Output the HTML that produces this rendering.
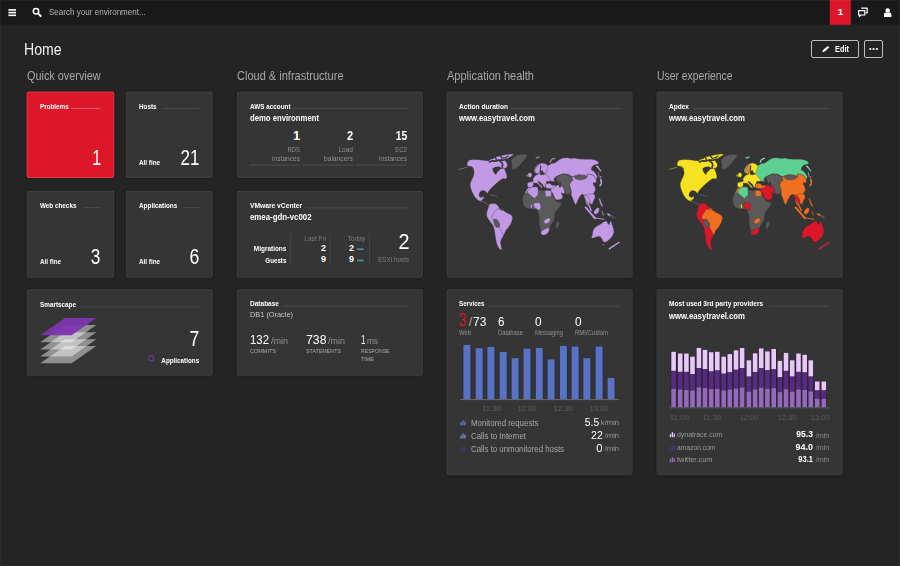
<!DOCTYPE html>
<html lang="en">
<head>
<meta charset="utf-8">
<title>Home</title>
<style>
*{box-sizing:border-box;margin:0;padding:0}
html,body{width:900px;height:566px;overflow:hidden}
body{background:#242424;font-family:"Liberation Sans",sans-serif;color:#fff;position:relative}
.t{position:absolute;white-space:nowrap;line-height:1}
.btn{position:absolute;border:1px solid #bdbdbd;border-radius:2px;top:40px;height:18px}
svg{position:absolute;left:0;top:0}
</style>
</head>
<body>
<div class="btn" style="left:811px;width:48px"></div>
<div class="btn" style="left:864px;width:19px"></div>
<svg width="900" height="566" viewBox="0 0 900 566">
<defs><filter id="sh" x="-5%" y="-5%" width="110%" height="110%"><feGaussianBlur stdDeviation="1.3"/></filter></defs>
<rect x="0" y="0" width="900" height="24.6" fill="#191919"/><rect x="829.8" y="0" width="21" height="24.8" fill="#dc172a"/>
<g filter="url(#sh)" fill="#000" opacity="0.35">
<rect x="26.6" y="91.6" width="87.7" height="86.4" rx="2"/>
<rect x="125.8" y="91.6" width="87" height="86.4" rx="2"/>
<rect x="26.6" y="190.8" width="87.7" height="87" rx="2"/>
<rect x="125.8" y="190.8" width="87" height="87" rx="2"/>
<rect x="26.6" y="289.2" width="186.2" height="86.6" rx="2"/>
<rect x="236.8" y="91.6" width="186" height="86.4" rx="2"/>
<rect x="236.8" y="190.8" width="186" height="87" rx="2"/>
<rect x="236.8" y="289.2" width="186" height="86.6" rx="2"/>
<rect x="446.6" y="91.6" width="186" height="186.2" rx="2"/>
<rect x="446.6" y="289.2" width="186" height="186.1" rx="2"/>
<rect x="656.5" y="91.6" width="186.2" height="186.2" rx="2"/>
<rect x="656.5" y="289.2" width="186.2" height="186.1" rx="2"/>
</g>
<rect x="26.6" y="91.6" width="87.7" height="86.4" rx="2.2" fill="#e3394a"/>
<rect x="27.5" y="92.5" width="85.9" height="84.60000000000001" rx="1.5" fill="#dc172a"/>
<rect x="125.8" y="91.6" width="87" height="86.4" rx="2.2" fill="#404040"/>
<rect x="126.7" y="92.5" width="85.2" height="84.60000000000001" rx="1.5" fill="#353535"/>
<rect x="26.6" y="190.8" width="87.7" height="87" rx="2.2" fill="#404040"/>
<rect x="27.5" y="191.70000000000002" width="85.9" height="85.2" rx="1.5" fill="#353535"/>
<rect x="125.8" y="190.8" width="87" height="87" rx="2.2" fill="#404040"/>
<rect x="126.7" y="191.70000000000002" width="85.2" height="85.2" rx="1.5" fill="#353535"/>
<rect x="26.6" y="289.2" width="186.2" height="86.6" rx="2.2" fill="#404040"/>
<rect x="27.5" y="290.09999999999997" width="184.39999999999998" height="84.8" rx="1.5" fill="#353535"/>
<rect x="236.8" y="91.6" width="186" height="86.4" rx="2.2" fill="#404040"/>
<rect x="237.70000000000002" y="92.5" width="184.2" height="84.60000000000001" rx="1.5" fill="#353535"/>
<rect x="236.8" y="190.8" width="186" height="87" rx="2.2" fill="#404040"/>
<rect x="237.70000000000002" y="191.70000000000002" width="184.2" height="85.2" rx="1.5" fill="#353535"/>
<rect x="236.8" y="289.2" width="186" height="86.6" rx="2.2" fill="#404040"/>
<rect x="237.70000000000002" y="290.09999999999997" width="184.2" height="84.8" rx="1.5" fill="#353535"/>
<rect x="446.6" y="91.6" width="186" height="186.2" rx="2.2" fill="#404040"/>
<rect x="447.5" y="92.5" width="184.2" height="184.39999999999998" rx="1.5" fill="#353535"/>
<rect x="446.6" y="289.2" width="186" height="186.1" rx="2.2" fill="#404040"/>
<rect x="447.5" y="290.09999999999997" width="184.2" height="184.29999999999998" rx="1.5" fill="#353535"/>
<rect x="656.5" y="91.6" width="186.2" height="186.2" rx="2.2" fill="#404040"/>
<rect x="657.4" y="92.5" width="184.39999999999998" height="184.39999999999998" rx="1.5" fill="#353535"/>
<rect x="656.5" y="289.2" width="186.2" height="186.1" rx="2.2" fill="#404040"/>
<rect x="657.4" y="290.09999999999997" width="184.39999999999998" height="184.29999999999998" rx="1.5" fill="#353535"/>
<g fill="#fff">
<rect x="8.4" y="9.1" width="7.6" height="1.6"/>
<rect x="8.4" y="11.8" width="7.6" height="1.6"/>
<rect x="8.4" y="14.5" width="7.6" height="1.6"/>
</g>
<circle cx="36" cy="11.3" r="2.7" fill="none" stroke="#fff" stroke-width="1.5"/><path d="M38 13.3 L40.7 16" stroke="#fff" stroke-width="1.9" stroke-linecap="round"/>
<g fill="none" stroke="#fff" stroke-width="1.2" stroke-linejoin="round"><path d="M861.2 8.2h6v4.6h-1.6"/><path d="M858.6 10.6h6.2v4.4h-3.8l-1.4 1.4v-1.4h-1z" fill="#191919"/></g>
<g fill="#fff"><circle cx="887.7" cy="10.4" r="2.2"/><path d="M884 17v-2.6c0-1 .8-1.8 1.8-1.8h3.8c1 0 1.8.8 1.8 1.8V17z"/></g>
<path d="M822.3 52.3 L823 50 L827.8 45.9 L829.3 47.4 L824.6 51.6 Z" fill="#fff"/>
<circle cx="870.3" cy="49" r="1.1" fill="#fff"/>
<circle cx="873.6" cy="49" r="1.1" fill="#fff"/>
<circle cx="876.9" cy="49" r="1.1" fill="#fff"/>
<rect x="71" y="107.9" width="29.5" height="1" fill="#e65a68"/>
<rect x="162" y="108.1" width="37.5" height="1" fill="#494949"/>
<rect x="83" y="207.1" width="16.8" height="1" fill="#494949"/>
<rect x="183.3" y="207.1" width="16.7" height="1" fill="#494949"/>
<rect x="81" y="306.3" width="118.6" height="1" fill="#494949"/>
<rect x="293" y="107.8" width="116.5" height="1" fill="#494949"/>
<rect x="305" y="207.3" width="104.5" height="1" fill="#494949"/>
<rect x="282" y="305.7" width="127.5" height="1" fill="#494949"/>
<rect x="511" y="108.0" width="109.0" height="1" fill="#494949"/>
<rect x="693.5" y="108.0" width="135.5" height="1" fill="#494949"/>
<rect x="488" y="305.7" width="131.0" height="1" fill="#494949"/>
<rect x="769.5" y="305.7" width="59.5" height="1" fill="#494949"/>
<rect x="249.5" y="164.5" width="50.7" height="1" fill="#505050"/>
<rect x="302.2" y="164.5" width="50.8" height="1" fill="#505050"/>
<rect x="355.5" y="164.5" width="51.5" height="1" fill="#505050"/>
<line x1="290.4" y1="234" x2="290.4" y2="264.5" stroke="#5a5a5a" stroke-width="0.8" stroke-dasharray="1 1"/>
<line x1="330" y1="234" x2="330" y2="264.5" stroke="#5a5a5a" stroke-width="0.8" stroke-dasharray="1 1"/>
<line x1="369.5" y1="234" x2="369.5" y2="264.5" stroke="#5a5a5a" stroke-width="0.8" stroke-dasharray="1 1"/>
<rect x="357" y="248.3" width="6.6" height="1.8" fill="#4c8d9c"/>
<rect x="357" y="259.5" width="6.6" height="1.8" fill="#4c8d9c"/>
<polygon points="65.1,346.0 96.3,346.0 71.6,363.2 40.2,363.2" fill="rgba(255,255,255,0.45)"/>
<polygon points="65.1,339.3 96.3,339.3 71.6,356.5 40.2,356.5" fill="rgba(255,255,255,0.45)"/>
<polygon points="65.1,332.2 96.3,332.2 71.6,349.4 40.2,349.4" fill="rgba(255,255,255,0.45)"/>
<polygon points="65.1,325.1 96.3,325.1 71.6,342.3 40.2,342.3" fill="rgba(255,255,255,0.45)"/>
<polygon points="65.1,318.1 96.3,318.1 71.6,335.3 40.2,335.3" fill="rgba(126,54,176,0.95)"/>
<circle cx="151.1" cy="358.3" r="2.7" fill="none" stroke="#7440a6" stroke-width="1"/>
<rect x="462.4" y="345.0" width="9" height="54.2" fill="#2e2e3a"/>
<rect x="463.4" y="345.0" width="7" height="54.2" fill="#5873c6"/>
<rect x="474.7" y="348.2" width="9" height="51.0" fill="#2e2e3a"/>
<rect x="475.7" y="348.2" width="7" height="51.0" fill="#5873c6"/>
<rect x="486.4" y="346.9" width="9" height="52.3" fill="#2e2e3a"/>
<rect x="487.4" y="346.9" width="7" height="52.3" fill="#5873c6"/>
<rect x="498.7" y="352.0" width="9" height="47.2" fill="#2e2e3a"/>
<rect x="499.7" y="352.0" width="7" height="47.2" fill="#5873c6"/>
<rect x="510.6" y="358.2" width="9" height="41.0" fill="#2e2e3a"/>
<rect x="511.6" y="358.2" width="7" height="41.0" fill="#5873c6"/>
<rect x="522.5" y="348.6" width="9" height="50.6" fill="#2e2e3a"/>
<rect x="523.5" y="348.6" width="7" height="50.6" fill="#5873c6"/>
<rect x="534.8" y="348.0" width="9" height="51.2" fill="#2e2e3a"/>
<rect x="535.8" y="348.0" width="7" height="51.2" fill="#5873c6"/>
<rect x="546.6" y="359.4" width="9" height="39.8" fill="#2e2e3a"/>
<rect x="547.6" y="359.4" width="7" height="39.8" fill="#5873c6"/>
<rect x="558.9" y="345.9" width="9" height="53.3" fill="#2e2e3a"/>
<rect x="559.9" y="345.9" width="7" height="53.3" fill="#5873c6"/>
<rect x="570.6" y="346.5" width="9" height="52.7" fill="#2e2e3a"/>
<rect x="571.6" y="346.5" width="7" height="52.7" fill="#5873c6"/>
<rect x="582.3" y="358.2" width="9" height="41.0" fill="#2e2e3a"/>
<rect x="583.3" y="358.2" width="7" height="41.0" fill="#5873c6"/>
<rect x="594.6" y="346.5" width="9" height="52.7" fill="#2e2e3a"/>
<rect x="595.6" y="346.5" width="7" height="52.7" fill="#5873c6"/>
<rect x="606.6" y="377.9" width="9" height="21.3" fill="#2e2e3a"/>
<rect x="607.6" y="377.9" width="7" height="21.3" fill="#5873c6"/>
<rect x="460.3" y="399.1" width="158.7" height="1" fill="#6b6b6b"/>
<g fill="#5c79d0"><rect x="460.4" y="422.3" width="1.3" height="3"/><rect x="462.29999999999995" y="420.3" width="1.3" height="5"/><rect x="464.2" y="421.5" width="1.3" height="3.8"/></g>
<g fill="#7a8fc8"><rect x="460.4" y="435.4" width="1.3" height="3"/><rect x="462.29999999999995" y="433.4" width="1.3" height="5"/><rect x="464.2" y="434.59999999999997" width="1.3" height="3.8"/></g>
<g fill="#3c3f78"><rect x="460.4" y="448.4" width="1.3" height="3"/><rect x="462.29999999999995" y="446.4" width="1.3" height="5"/><rect x="464.2" y="447.59999999999997" width="1.3" height="3.8"/></g>
<rect x="670.5" y="351.8" width="6.2" height="55.6" fill="#2c2233"/>
<rect x="671.3" y="351.8" width="4.6" height="19.1" fill="#e8c8f6"/>
<rect x="671.3" y="370.9" width="4.6" height="18.0" fill="#582b83"/>
<rect x="671.3" y="388.9" width="4.6" height="18.5" fill="#9469ba"/>
<rect x="677.1" y="353.5" width="6.2" height="53.9" fill="#2c2233"/>
<rect x="677.9" y="353.5" width="4.6" height="18.4" fill="#e8c8f6"/>
<rect x="677.9" y="371.9" width="4.6" height="17.6" fill="#582b83"/>
<rect x="677.9" y="389.5" width="4.6" height="17.9" fill="#9469ba"/>
<rect x="683.3" y="353.5" width="6.2" height="53.9" fill="#2c2233"/>
<rect x="684.1" y="353.5" width="4.6" height="18.4" fill="#e8c8f6"/>
<rect x="684.1" y="371.9" width="4.6" height="18.0" fill="#582b83"/>
<rect x="684.1" y="390.0" width="4.6" height="17.4" fill="#9469ba"/>
<rect x="689.4" y="356.7" width="6.2" height="50.7" fill="#2c2233"/>
<rect x="690.2" y="356.7" width="4.6" height="17.4" fill="#e8c8f6"/>
<rect x="690.2" y="374.1" width="4.6" height="16.5" fill="#582b83"/>
<rect x="690.2" y="390.6" width="4.6" height="16.8" fill="#9469ba"/>
<rect x="695.8" y="348.0" width="6.2" height="59.4" fill="#2c2233"/>
<rect x="696.6" y="348.0" width="4.6" height="20.1" fill="#e8c8f6"/>
<rect x="696.6" y="368.1" width="4.6" height="19.3" fill="#582b83"/>
<rect x="696.6" y="387.4" width="4.6" height="20.0" fill="#9469ba"/>
<rect x="701.9" y="349.9" width="6.2" height="57.5" fill="#2c2233"/>
<rect x="702.7" y="349.9" width="4.6" height="19.3" fill="#e8c8f6"/>
<rect x="702.7" y="369.2" width="4.6" height="18.9" fill="#582b83"/>
<rect x="702.7" y="388.1" width="4.6" height="19.3" fill="#9469ba"/>
<rect x="708.1" y="352.2" width="6.2" height="55.2" fill="#2c2233"/>
<rect x="708.9" y="352.2" width="4.6" height="19.3" fill="#e8c8f6"/>
<rect x="708.9" y="371.5" width="4.6" height="17.6" fill="#582b83"/>
<rect x="708.9" y="389.1" width="4.6" height="18.3" fill="#9469ba"/>
<rect x="714.2" y="351.8" width="6.2" height="55.6" fill="#2c2233"/>
<rect x="715.0" y="351.8" width="4.6" height="18.7" fill="#e8c8f6"/>
<rect x="715.0" y="370.5" width="4.6" height="18.4" fill="#582b83"/>
<rect x="715.0" y="388.9" width="4.6" height="18.5" fill="#9469ba"/>
<rect x="720.6" y="356.7" width="6.2" height="50.7" fill="#2c2233"/>
<rect x="721.4" y="356.7" width="4.6" height="17.0" fill="#e8c8f6"/>
<rect x="721.4" y="373.6" width="4.6" height="16.8" fill="#582b83"/>
<rect x="721.4" y="390.4" width="4.6" height="17.0" fill="#9469ba"/>
<rect x="726.7" y="354.1" width="6.2" height="53.3" fill="#2c2233"/>
<rect x="727.5" y="354.1" width="4.6" height="18.2" fill="#e8c8f6"/>
<rect x="727.5" y="372.4" width="4.6" height="17.2" fill="#582b83"/>
<rect x="727.5" y="389.5" width="4.6" height="17.9" fill="#9469ba"/>
<rect x="732.9" y="350.3" width="6.2" height="57.1" fill="#2c2233"/>
<rect x="733.7" y="350.3" width="4.6" height="19.5" fill="#e8c8f6"/>
<rect x="733.7" y="369.8" width="4.6" height="18.7" fill="#582b83"/>
<rect x="733.7" y="388.5" width="4.6" height="18.9" fill="#9469ba"/>
<rect x="739.0" y="348.0" width="6.2" height="59.4" fill="#2c2233"/>
<rect x="739.8" y="348.0" width="4.6" height="20.1" fill="#e8c8f6"/>
<rect x="739.8" y="368.1" width="4.6" height="19.3" fill="#582b83"/>
<rect x="739.8" y="387.4" width="4.6" height="20.0" fill="#9469ba"/>
<rect x="745.8" y="360.3" width="6.2" height="47.1" fill="#2c2233"/>
<rect x="746.6" y="360.3" width="4.6" height="16.3" fill="#e8c8f6"/>
<rect x="746.6" y="376.6" width="4.6" height="15.1" fill="#582b83"/>
<rect x="746.6" y="391.7" width="4.6" height="15.7" fill="#9469ba"/>
<rect x="752.0" y="353.3" width="6.2" height="54.1" fill="#2c2233"/>
<rect x="752.8" y="353.3" width="4.6" height="18.7" fill="#e8c8f6"/>
<rect x="752.8" y="371.9" width="4.6" height="17.6" fill="#582b83"/>
<rect x="752.8" y="389.5" width="4.6" height="17.9" fill="#9469ba"/>
<rect x="758.1" y="348.4" width="6.2" height="59.0" fill="#2c2233"/>
<rect x="758.9" y="348.4" width="4.6" height="19.9" fill="#e8c8f6"/>
<rect x="758.9" y="368.3" width="4.6" height="19.3" fill="#582b83"/>
<rect x="758.9" y="387.6" width="4.6" height="19.8" fill="#9469ba"/>
<rect x="764.3" y="351.4" width="6.2" height="56.0" fill="#2c2233"/>
<rect x="765.1" y="351.4" width="4.6" height="18.9" fill="#e8c8f6"/>
<rect x="765.1" y="370.2" width="4.6" height="18.4" fill="#582b83"/>
<rect x="765.1" y="388.7" width="4.6" height="18.7" fill="#9469ba"/>
<rect x="770.6" y="349.0" width="6.2" height="58.4" fill="#2c2233"/>
<rect x="771.4" y="349.0" width="4.6" height="20.4" fill="#e8c8f6"/>
<rect x="771.4" y="369.4" width="4.6" height="18.7" fill="#582b83"/>
<rect x="771.4" y="388.1" width="4.6" height="19.3" fill="#9469ba"/>
<rect x="776.8" y="360.9" width="6.2" height="46.5" fill="#2c2233"/>
<rect x="777.6" y="360.9" width="4.6" height="16.3" fill="#e8c8f6"/>
<rect x="777.6" y="377.2" width="4.6" height="14.8" fill="#582b83"/>
<rect x="777.6" y="392.1" width="4.6" height="15.3" fill="#9469ba"/>
<rect x="782.9" y="352.9" width="6.2" height="54.5" fill="#2c2233"/>
<rect x="783.7" y="352.9" width="4.6" height="18.0" fill="#e8c8f6"/>
<rect x="783.7" y="370.9" width="4.6" height="18.4" fill="#582b83"/>
<rect x="783.7" y="389.3" width="4.6" height="18.1" fill="#9469ba"/>
<rect x="789.1" y="360.3" width="6.2" height="47.1" fill="#2c2233"/>
<rect x="789.9" y="360.3" width="4.6" height="16.3" fill="#e8c8f6"/>
<rect x="789.9" y="376.6" width="4.6" height="15.1" fill="#582b83"/>
<rect x="789.9" y="391.7" width="4.6" height="15.7" fill="#9469ba"/>
<rect x="795.4" y="353.5" width="6.2" height="53.9" fill="#2c2233"/>
<rect x="796.2" y="353.5" width="4.6" height="18.4" fill="#e8c8f6"/>
<rect x="796.2" y="371.9" width="4.6" height="17.6" fill="#582b83"/>
<rect x="796.2" y="389.5" width="4.6" height="17.9" fill="#9469ba"/>
<rect x="801.6" y="354.8" width="6.2" height="52.6" fill="#2c2233"/>
<rect x="802.4" y="354.8" width="4.6" height="17.6" fill="#e8c8f6"/>
<rect x="802.4" y="372.4" width="4.6" height="17.6" fill="#582b83"/>
<rect x="802.4" y="390.0" width="4.6" height="17.4" fill="#9469ba"/>
<rect x="807.7" y="360.3" width="6.2" height="47.1" fill="#2c2233"/>
<rect x="808.5" y="360.3" width="4.6" height="16.3" fill="#e8c8f6"/>
<rect x="808.5" y="376.6" width="4.6" height="14.8" fill="#582b83"/>
<rect x="808.5" y="391.4" width="4.6" height="16.0" fill="#9469ba"/>
<rect x="814.1" y="381.5" width="6.2" height="25.9" fill="#2c2233"/>
<rect x="814.9" y="381.5" width="4.6" height="8.9" fill="#e8c8f6"/>
<rect x="814.9" y="390.4" width="4.6" height="8.5" fill="#582b83"/>
<rect x="814.9" y="398.9" width="4.6" height="8.5" fill="#9469ba"/>
<rect x="820.7" y="381.5" width="6.2" height="25.9" fill="#2c2233"/>
<rect x="821.5" y="381.5" width="4.6" height="8.9" fill="#e8c8f6"/>
<rect x="821.5" y="390.4" width="4.6" height="8.5" fill="#582b83"/>
<rect x="821.5" y="398.9" width="4.6" height="8.5" fill="#9469ba"/>
<rect x="669" y="407.3" width="160.5" height="1" fill="#5a5a5a"/>
<g fill="#e6c6f7"><rect x="669.8" y="434.2" width="1.3" height="3"/><rect x="671.6999999999999" y="432.2" width="1.3" height="5"/><rect x="673.5999999999999" y="433.4" width="1.3" height="3.8"/></g>
<g fill="#5a2b85"><rect x="669.8" y="446.9" width="1.3" height="3"/><rect x="671.6999999999999" y="444.9" width="1.3" height="5"/><rect x="673.5999999999999" y="446.09999999999997" width="1.3" height="3.8"/></g>
<g fill="#9a6cbf"><rect x="669.8" y="459.1" width="1.3" height="3"/><rect x="671.6999999999999" y="457.1" width="1.3" height="5"/><rect x="673.5999999999999" y="458.3" width="1.3" height="3.8"/></g>
<rect x="0.5" y="0.5" width="899" height="565" fill="none" stroke="rgba(255,255,255,0.04)" stroke-width="1"/>
</svg>
<svg width="900" height="566" viewBox="0 0 900 566">
<g transform="translate(0,0)" stroke-linejoin="round">
<polygon points="467.0,165.0 467.5,162.0 469.5,160.0 474.0,159.5 479.0,159.7 485.0,160.5 489.0,161.0 490.0,159.5 494.0,158.5 495.0,157.0 500.0,156.0 505.0,154.8 511.0,154.0 514.0,154.2 512.5,155.5 509.0,157.5 506.5,159.5 505.0,161.0 507.0,163.0 507.5,166.0 505.5,168.5 504.0,168.2 505.0,170.0 506.5,174.0 507.0,177.5 505.5,179.0 503.0,178.5 500.5,180.0 498.0,182.0 495.0,184.5 492.5,187.0 490.0,189.5 488.5,191.5 487.5,193.5 486.5,192.5 485.0,191.0 482.0,190.5 480.0,192.0 479.0,194.5 479.5,196.8 481.8,197.6 483.3,196.2 484.2,197.0 483.2,199.3 481.6,200.0 482.2,201.8 481.2,201.4 478.5,200.4 476.4,198.9 474.6,196.7 472.9,193.7 471.4,190.2 470.3,186.5 470.2,183.5 471.5,180.0 473.0,177.0 474.0,174.0 474.0,171.0 473.0,169.0 471.0,167.5 468.5,166.5" fill="#c299e4" stroke="#2f2f2f" stroke-width="0.3"/>
<polygon points="492.5,168.5 495.0,167.0 499.0,166.5 500.8,167.8 503.5,167.8 503.8,168.6 500.5,169.0 499.0,170.5 497.0,172.5 496.0,175.0 494.5,173.5 493.0,171.0" fill="#353535"/>
<polyline points="489.5,162.0 492.5,160.8 495.5,161.2 499.0,160.0 503.0,160.2 506.5,159.2" fill="none" stroke="#353535" stroke-width="1.7" stroke-linecap="round"/>
<polyline points="502.0,167.2 502.8,165.0 502.0,162.8 499.8,161.2" fill="none" stroke="#353535" stroke-width="1.6" stroke-linecap="round"/>
<polyline points="500.5,156.2 502.0,158.2 505.0,157.8 508.0,156.2" fill="none" stroke="#353535" stroke-width="1.3" stroke-linecap="round"/>
<polyline points="495.5,157.5 496.5,160.0" fill="none" stroke="#353535" stroke-width="1.3" stroke-linecap="round"/>
<polyline points="467.8,166.5 471.0,166.8 473.3,168.6" fill="none" stroke="#353535" stroke-width="1.1" stroke-linecap="round"/>
<polyline points="459.0,169.5 467.0,167.2" fill="none" stroke="#7d6c8c" stroke-width="0.9" stroke-linecap="round"/>
<polyline points="481.0,200.5 484.5,202.4 487.5,204.2 489.2,205.3" fill="none" stroke="#6f6480" stroke-width="0.9" stroke-linecap="round"/>
<polyline points="490.0,194.8 494.5,195.5 497.0,197.0" fill="none" stroke="#5d5d5d" stroke-width="0.9" stroke-linecap="round"/>
<polygon points="511.5,159.5 515.0,156.0 520.0,154.5 525.0,154.2 527.5,155.2 525.5,158.5 523.0,161.5 520.0,165.0 516.0,168.5 513.0,170.0 511.5,168.0 512.0,164.0 511.0,161.5" fill="#5a5a5a" stroke="#2f2f2f" stroke-width="0.3"/>
<polygon points="523.0,166.5 525.0,166.2 525.5,167.5 523.5,167.8" fill="#4c4c4c" stroke="#2f2f2f" stroke-width="0.3"/>
<polygon points="535.0,157.2 539.5,156.2 540.0,157.8 536.5,159.0" fill="#8d7da0" stroke="#2f2f2f" stroke-width="0.3"/>
<polygon points="489.0,205.0 491.0,203.5 495.0,203.5 497.5,205.0 499.0,207.5 503.5,210.5 506.0,212.5 509.5,214.0 512.0,216.0 512.5,218.5 511.5,222.0 510.0,225.0 508.0,228.0 506.0,230.0 504.5,233.5 503.0,236.5 501.5,239.0 500.5,242.0 501.0,245.0 501.5,248.0 502.5,250.0 500.0,249.5 498.0,247.0 496.5,243.0 495.5,238.0 494.8,233.0 494.2,229.0 493.0,225.5 490.8,222.5 488.5,219.5 486.8,216.5 486.5,213.5 487.5,210.0 488.5,207.0" fill="#c299e4" stroke="#2f2f2f" stroke-width="0.3"/>
<polygon points="491.8,216.5 493.5,213.0 496.2,209.5 499.0,209.0 503.5,210.5 506.0,212.5 509.5,214.0 512.0,216.0 512.5,218.5 511.5,222.0 510.0,225.0 508.0,228.0 506.0,230.0 504.5,233.5 503.5,235.0 502.2,232.5 500.8,229.5 499.2,227.0 499.5,224.0 498.0,221.8 496.2,219.5 494.0,219.8 492.2,218.5" fill="#c299e4" stroke="#2f2f2f" stroke-width="0.3"/>
<polygon points="493.6,219.4 496.4,219.1 498.4,221.6 499.9,224.0 499.3,227.1 496.2,227.4 494.8,225.2 493.8,222.5" fill="#5a5a5a" stroke="#2f2f2f" stroke-width="0.3"/>
<polygon points="499.0,207.5 501.5,208.5 503.0,210.5 501.0,210.0 499.5,209.0" fill="#5a5a5a" stroke="#2f2f2f" stroke-width="0.3"/>
<polygon points="527.5,188.5 530.0,187.0 535.0,186.5 538.0,187.5 538.5,190.0 543.0,190.5 547.0,190.0 550.0,190.5 551.5,191.5 552.5,195.0 554.5,199.0 556.5,201.5 562.0,202.5 560.5,205.5 558.0,209.0 555.5,212.0 554.5,215.0 554.5,218.5 553.5,221.5 551.5,224.0 550.0,227.0 548.5,231.0 546.0,234.5 542.5,235.5 541.0,233.5 540.5,230.0 539.5,226.0 539.0,222.0 539.5,218.5 538.5,215.0 537.5,212.0 538.0,210.0 535.0,209.0 531.0,209.0 527.0,208.5 524.5,206.5 523.0,203.0 522.5,199.5 523.5,195.5 525.0,192.5" fill="#5a5a5a" stroke="#2f2f2f" stroke-width="0.3"/>
<polygon points="527.5,189.0 530.0,187.0 537.5,187.0 538.2,191.0 538.0,195.0 534.5,198.5 527.5,192.8" fill="#c299e4" stroke="#2f2f2f" stroke-width="0.3"/>
<polygon points="525.0,192.5 527.5,188.5 530.0,187.0 531.0,187.8 528.5,190.0 526.2,193.5" fill="#c299e4" stroke="#2f2f2f" stroke-width="0.3"/>
<polygon points="545.0,190.5 550.0,190.5 551.5,192.0 551.0,196.5 545.5,196.5" fill="#c299e4" stroke="#2f2f2f" stroke-width="0.3"/>
<polygon points="534.0,203.0 539.5,202.5 540.8,205.5 540.5,209.5 538.5,210.0 535.0,208.0 533.5,205.5" fill="#c299e4" stroke="#2f2f2f" stroke-width="0.3"/>
<polygon points="530.5,204.5 532.2,204.3 532.2,208.2 530.6,208.3" fill="#c299e4" stroke="#2f2f2f" stroke-width="0.3"/>
<polygon points="524.6,205.0 525.6,205.0 525.6,206.2 524.6,206.2" fill="#a88bc4" stroke="#2f2f2f" stroke-width="0.3"/>
<polygon points="544.0,220.5 547.0,218.5 549.5,217.8 550.5,220.0 549.0,222.5 546.0,224.0 544.2,223.0" fill="#c299e4" stroke="#2f2f2f" stroke-width="0.3"/>
<polygon points="541.5,231.0 545.0,229.0 548.5,227.5 549.5,229.5 548.0,233.0 545.0,235.0 542.0,235.0 540.8,233.0" fill="#c299e4" stroke="#2f2f2f" stroke-width="0.3"/>
<polygon points="556.5,222.0 559.0,221.0 559.5,224.0 558.0,228.0 556.2,229.0 555.8,225.5" fill="#5a5a5a" stroke="#2f2f2f" stroke-width="0.3"/>
<polygon points="545.0,164.0 547.0,165.5 549.0,165.0 551.5,163.5 555.0,163.0 557.0,161.5 559.5,159.5 563.0,158.0 567.0,157.8 571.0,158.5 575.0,158.0 579.0,159.0 585.0,159.2 591.0,159.2 595.0,160.0 598.0,161.5 599.0,163.5 596.5,164.5 594.0,165.0 592.0,167.0 591.0,169.5 594.0,171.5 596.0,174.0 597.5,177.0 596.2,179.2 594.8,177.5 593.5,175.5 591.0,174.5 587.5,174.0 587.2,176.5 584.0,175.2 579.0,174.8 574.0,176.2 572.2,176.8 568.0,174.3 563.0,173.8 559.0,175.3 555.0,177.3 553.8,179.5 555.0,181.5 551.0,181.2 548.5,179.5 546.0,177.0 544.5,174.5 545.0,171.5 543.8,169.5 544.2,166.5" fill="#c299e4" stroke="#2f2f2f" stroke-width="0.3"/>
<polygon points="534.1,171.7 534.4,169.3 535.9,166.8 537.8,164.6 539.9,163.4 542.7,163.0 545.5,163.8 547.3,165.3 548.0,167.4 546.7,169.9 546.4,172.4 544.2,173.3 543.1,172.2 542.6,170.6 541.7,170.3 540.9,171.9 539.6,173.3 537.8,173.9 535.9,173.3" fill="#c299e4" stroke="#2f2f2f" stroke-width="0.3"/>
<polygon points="534.7,171.6 535.1,169.3 536.5,166.9 538.2,164.9 540.0,164.1 540.5,166.2 540.0,168.7 539.6,171.1 538.7,173.1 536.8,173.2" fill="#c299e4" stroke="#2f2f2f" stroke-width="0.3"/>
<polygon points="534.2,171.6 534.5,169.3 536.0,166.8 537.8,164.7 538.7,164.3 536.8,167.1 535.5,169.4 535.1,171.7" fill="#c299e4" stroke="#2f2f2f" stroke-width="0.3"/>
<polyline points="540.9,166.2 540.5,169.3 540.2,172.2" fill="none" stroke="#353535" stroke-width="1.0" stroke-linecap="round"/>
<polygon points="532.8,178.9 534.4,176.7 535.9,175.1 538.2,174.4 539.0,172.7 540.0,173.3 540.5,174.7 543.0,174.8 545.0,173.9 546.7,174.8 549.2,178.5 551.0,180.4 549.2,181.6 546.7,181.3 546.4,183.5 545.2,184.7 545.5,187.2 544.2,187.5 543.0,185.3 541.8,183.8 539.9,182.2 538.7,181.3 537.8,181.6 539.9,184.4 542.1,186.6 542.7,187.5 541.5,187.8 539.6,186.0 537.8,183.8 536.2,182.9 534.7,183.2 533.1,182.9 533.4,184.4 532.8,186.6 530.7,187.5 527.9,187.2 527.3,185.0 527.6,182.9 530.0,181.9 532.8,181.6 533.4,180.7" fill="#c299e4" stroke="#2f2f2f" stroke-width="0.3"/>
<polygon points="528.2,173.3 530.0,172.4 531.6,173.3 531.9,175.5 531.0,177.3 528.2,177.0 527.9,175.1" fill="#c299e4" stroke="#2f2f2f" stroke-width="0.3"/>
<polygon points="526.3,174.8 527.7,174.5 527.9,176.4 526.4,176.6" fill="#c299e4" stroke="#2f2f2f" stroke-width="0.3"/>
<polygon points="545.2,184.0 549.5,183.2 552.2,185.2 556.0,185.6 556.8,187.8 553.0,189.0 549.0,188.5 546.8,188.4 545.3,186.2" fill="#c299e4" stroke="#2f2f2f" stroke-width="0.3"/>
<polygon points="550.2,190.0 551.8,188.5 555.0,187.0 557.5,185.0 561.0,184.8 563.0,187.0 564.5,190.0 565.0,193.0 563.0,193.5 561.5,192.5 562.0,195.0 563.0,197.0 561.5,199.0 558.0,200.0 555.5,199.5 554.0,196.5 552.5,193.0" fill="#c299e4" stroke="#2f2f2f" stroke-width="0.3"/>
<polygon points="555.0,177.5 559.0,175.5 563.0,174.0 568.0,174.5 572.0,177.0 573.0,180.0 571.0,182.0 569.5,184.5 570.5,188.0 571.5,192.0 569.5,194.0 567.0,194.5 565.0,193.0 564.5,190.0 563.0,187.0 561.0,184.8 560.0,187.5 559.0,184.5 558.0,183.0 556.5,180.0" fill="#5a5a5a" stroke="#2f2f2f" stroke-width="0.3"/>
<polygon points="559.0,182.0 560.5,181.5 561.0,184.5 560.5,187.5 559.5,187.5 559.0,184.5" fill="#353535"/>
<polygon points="572.0,177.0 574.0,176.2 579.0,174.8 584.0,175.2 587.2,176.5 587.5,174.0 591.0,174.5 593.5,175.5 594.8,177.5 596.2,179.2 596.5,182.0 595.0,183.0 594.0,182.0 593.0,184.0 595.0,187.0 595.5,190.0 594.0,193.0 591.5,195.0 589.0,195.5 589.5,198.0 591.0,200.5 590.0,202.5 588.5,201.0 587.5,198.0 586.5,197.0 586.5,200.0 587.5,204.0 588.5,206.0 587.0,205.0 585.5,202.0 585.0,198.0 584.0,195.5 582.5,194.0 581.0,195.0 579.5,197.0 578.0,200.0 576.5,203.5 575.5,205.0 574.0,202.0 572.5,198.0 571.0,194.5 571.5,192.0 570.5,188.0 569.5,184.5 571.0,182.0 573.0,180.0" fill="#c299e4" stroke="#2f2f2f" stroke-width="0.3"/>
<polygon points="574.0,176.5 579.0,175.0 584.0,175.5 587.5,176.8 585.0,179.0 581.0,180.0 577.0,179.5 575.0,178.5" fill="#5a5a5a" stroke="#2f2f2f" stroke-width="0.3"/>
<polygon points="584.5,195.0 590.0,194.0 594.5,194.0 595.2,197.5 593.2,201.5 592.2,204.5 590.0,203.6 589.0,201.5 587.0,199.0 585.0,197.0" fill="#c299e4" stroke="#2f2f2f" stroke-width="0.3"/>
<polyline points="587.2,201.5 589.0,205.5 591.2,210.5" fill="none" stroke="#c299e4" stroke-width="1.4" stroke-linecap="round"/>
<polygon points="583.8,195.2 587.2,195.8 589.0,198.0 590.2,201.5 589.5,203.5 587.5,202.5 585.8,200.0 584.5,197.5" fill="#c299e4" stroke="#2f2f2f" stroke-width="0.3"/>
<polygon points="599.5,179.0 601.0,178.5 602.2,181.0 601.8,184.5 600.2,186.8 599.0,185.8 600.6,183.0 600.2,180.5" fill="#d0b6ea" stroke="#2f2f2f" stroke-width="0.3"/>
<polygon points="599.8,176.2 601.6,176.2 601.6,177.8 600.0,178.0" fill="#c299e4" stroke="#2f2f2f" stroke-width="0.3"/>
<polygon points="596.0,165.0 598.0,166.0 601.5,171.0 600.5,171.8 598.5,169.0 596.0,166.5" fill="#d3bdea" stroke="#2f2f2f" stroke-width="0.3"/>
<polyline points="550.2,162.2 551.2,160.0 553.0,158.8 554.5,158.4" fill="none" stroke="#a893c0" stroke-width="1.2" stroke-linecap="round"/>
<polyline points="598.2,172.5 599.2,177.0" fill="none" stroke="#8b78a0" stroke-width="0.9" stroke-linecap="round"/>
<polyline points="585.6,207.4 590.0,212.5 595.2,218.3" fill="none" stroke="#c299e4" stroke-width="1.9" stroke-linecap="round"/>
<polygon points="594.0,211.0 597.5,207.5 599.5,208.5 598.5,212.5 596.0,214.5 594.0,213.5" fill="#c299e4" stroke="#2f2f2f" stroke-width="0.3"/>
<polyline points="593.0,217.6 604.0,219.3" fill="none" stroke="#b294d2" stroke-width="1.0" stroke-linecap="round"/>
<polyline points="602.0,211.5 603.5,215.2" fill="none" stroke="#9f86bb" stroke-width="1.0" stroke-linecap="round"/>
<polygon points="598.5,198.0 600.0,198.5 601.5,202.5 603.0,206.0 602.0,207.0 600.0,203.5" fill="#b99bdb" stroke="#2f2f2f" stroke-width="0.3"/>
<polygon points="606.7,213.0 610.0,213.7 611.4,216.6 609.6,216.2 607.4,215.1" fill="#c299e4" stroke="#2f2f2f" stroke-width="0.3"/>
<polygon points="610.0,213.7 613.0,215.5 616.0,218.6 612.5,218.3 611.4,216.6" fill="#5a5a5a" stroke="#2f2f2f" stroke-width="0.3"/>
<polygon points="591.3,237.5 592.4,234.9 592.7,231.3 594.2,228.3 597.1,226.1 600.8,223.9 603.7,221.7 606.7,221.0 607.8,223.6 609.2,224.7 610.0,221.7 611.1,221.0 612.2,224.7 613.6,229.1 614.0,232.7 612.5,236.0 610.0,239.0 607.4,241.2 605.2,242.3 603.0,241.5 601.9,239.0 600.4,236.8 597.9,236.4 594.9,237.5 592.7,238.2" fill="#c299e4" stroke="#2f2f2f" stroke-width="0.3"/>
<polygon points="602.1,244.2 603.9,243.9 604.2,245.1 602.6,245.3" fill="#b99bdb" stroke="#2f2f2f" stroke-width="0.3"/>
<polyline points="609.2,248.9 619.1,242.3" fill="none" stroke="#c3a0e6" stroke-width="1.3" stroke-linecap="round"/>
</g>
<g transform="translate(210,0)" stroke-linejoin="round">
<polygon points="467.0,165.0 467.5,162.0 469.5,160.0 474.0,159.5 479.0,159.7 485.0,160.5 489.0,161.0 490.0,159.5 494.0,158.5 495.0,157.0 500.0,156.0 505.0,154.8 511.0,154.0 514.0,154.2 512.5,155.5 509.0,157.5 506.5,159.5 505.0,161.0 507.0,163.0 507.5,166.0 505.5,168.5 504.0,168.2 505.0,170.0 506.5,174.0 507.0,177.5 505.5,179.0 503.0,178.5 500.5,180.0 498.0,182.0 495.0,184.5 492.5,187.0 490.0,189.5 488.5,191.5 487.5,193.5 486.5,192.5 485.0,191.0 482.0,190.5 480.0,192.0 479.0,194.5 479.5,196.8 481.8,197.6 483.3,196.2 484.2,197.0 483.2,199.3 481.6,200.0 482.2,201.8 481.2,201.4 478.5,200.4 476.4,198.9 474.6,196.7 472.9,193.7 471.4,190.2 470.3,186.5 470.2,183.5 471.5,180.0 473.0,177.0 474.0,174.0 474.0,171.0 473.0,169.0 471.0,167.5 468.5,166.5" fill="#f6e122" stroke="#2f2f2f" stroke-width="0.3"/>
<polygon points="492.5,168.5 495.0,167.0 499.0,166.5 500.8,167.8 503.5,167.8 503.8,168.6 500.5,169.0 499.0,170.5 497.0,172.5 496.0,175.0 494.5,173.5 493.0,171.0" fill="#353535"/>
<polyline points="489.5,162.0 492.5,160.8 495.5,161.2 499.0,160.0 503.0,160.2 506.5,159.2" fill="none" stroke="#353535" stroke-width="1.7" stroke-linecap="round"/>
<polyline points="502.0,167.2 502.8,165.0 502.0,162.8 499.8,161.2" fill="none" stroke="#353535" stroke-width="1.6" stroke-linecap="round"/>
<polyline points="500.5,156.2 502.0,158.2 505.0,157.8 508.0,156.2" fill="none" stroke="#353535" stroke-width="1.3" stroke-linecap="round"/>
<polyline points="495.5,157.5 496.5,160.0" fill="none" stroke="#353535" stroke-width="1.3" stroke-linecap="round"/>
<polyline points="467.8,166.5 471.0,166.8 473.3,168.6" fill="none" stroke="#353535" stroke-width="1.1" stroke-linecap="round"/>
<polyline points="459.0,169.5 467.0,167.2" fill="none" stroke="#8a8334" stroke-width="0.9" stroke-linecap="round"/>
<polyline points="481.0,200.5 484.5,202.4 487.5,204.2 489.2,205.3" fill="none" stroke="#5f5f5f" stroke-width="0.9" stroke-linecap="round"/>
<polyline points="490.0,194.8 494.5,195.5 497.0,197.0" fill="none" stroke="#5d5d5d" stroke-width="0.9" stroke-linecap="round"/>
<polygon points="511.5,159.5 515.0,156.0 520.0,154.5 525.0,154.2 527.5,155.2 525.5,158.5 523.0,161.5 520.0,165.0 516.0,168.5 513.0,170.0 511.5,168.0 512.0,164.0 511.0,161.5" fill="#5a5a5a" stroke="#2f2f2f" stroke-width="0.3"/>
<polygon points="523.0,166.5 525.0,166.2 525.5,167.5 523.5,167.8" fill="#4c4c4c" stroke="#2f2f2f" stroke-width="0.3"/>
<polygon points="535.0,157.2 539.5,156.2 540.0,157.8 536.5,159.0" fill="#7dbd9c" stroke="#2f2f2f" stroke-width="0.3"/>
<polygon points="489.0,205.0 491.0,203.5 495.0,203.5 497.5,205.0 499.0,207.5 503.5,210.5 506.0,212.5 509.5,214.0 512.0,216.0 512.5,218.5 511.5,222.0 510.0,225.0 508.0,228.0 506.0,230.0 504.5,233.5 503.0,236.5 501.5,239.0 500.5,242.0 501.0,245.0 501.5,248.0 502.5,250.0 500.0,249.5 498.0,247.0 496.5,243.0 495.5,238.0 494.8,233.0 494.2,229.0 493.0,225.5 490.8,222.5 488.5,219.5 486.8,216.5 486.5,213.5 487.5,210.0 488.5,207.0" fill="#dc172a" stroke="#2f2f2f" stroke-width="0.3"/>
<polygon points="491.8,216.5 493.5,213.0 496.2,209.5 499.0,209.0 503.5,210.5 506.0,212.5 509.5,214.0 512.0,216.0 512.5,218.5 511.5,222.0 510.0,225.0 508.0,228.0 506.0,230.0 504.5,233.5 503.5,235.0 502.2,232.5 500.8,229.5 499.2,227.0 499.5,224.0 498.0,221.8 496.2,219.5 494.0,219.8 492.2,218.5" fill="#f07021" stroke="#2f2f2f" stroke-width="0.3"/>
<polygon points="493.6,219.4 496.4,219.1 498.4,221.6 499.9,224.0 499.3,227.1 496.2,227.4 494.8,225.2 493.8,222.5" fill="#5a5a5a" stroke="#2f2f2f" stroke-width="0.3"/>
<polygon points="499.0,207.5 501.5,208.5 503.0,210.5 501.0,210.0 499.5,209.0" fill="#f07021" stroke="#2f2f2f" stroke-width="0.3"/>
<polygon points="527.5,188.5 530.0,187.0 535.0,186.5 538.0,187.5 538.5,190.0 543.0,190.5 547.0,190.0 550.0,190.5 551.5,191.5 552.5,195.0 554.5,199.0 556.5,201.5 562.0,202.5 560.5,205.5 558.0,209.0 555.5,212.0 554.5,215.0 554.5,218.5 553.5,221.5 551.5,224.0 550.0,227.0 548.5,231.0 546.0,234.5 542.5,235.5 541.0,233.5 540.5,230.0 539.5,226.0 539.0,222.0 539.5,218.5 538.5,215.0 537.5,212.0 538.0,210.0 535.0,209.0 531.0,209.0 527.0,208.5 524.5,206.5 523.0,203.0 522.5,199.5 523.5,195.5 525.0,192.5" fill="#5a5a5a" stroke="#2f2f2f" stroke-width="0.3"/>
<polygon points="527.5,189.0 530.0,187.0 537.5,187.0 538.2,191.0 538.0,195.0 534.5,198.5 527.5,192.8" fill="#5fd094" stroke="#2f2f2f" stroke-width="0.3"/>
<polygon points="525.0,192.5 527.5,188.5 530.0,187.0 531.0,187.8 528.5,190.0 526.2,193.5" fill="#f07021" stroke="#2f2f2f" stroke-width="0.3"/>
<polygon points="545.0,190.5 550.0,190.5 551.5,192.0 551.0,196.5 545.5,196.5" fill="#f07021" stroke="#2f2f2f" stroke-width="0.3"/>
<polygon points="534.0,203.0 539.5,202.5 540.8,205.5 540.5,209.5 538.5,210.0 535.0,208.0 533.5,205.5" fill="#dc172a" stroke="#2f2f2f" stroke-width="0.3"/>
<polygon points="530.5,204.5 532.2,204.3 532.2,208.2 530.6,208.3" fill="#f6e122" stroke="#2f2f2f" stroke-width="0.3"/>
<polygon points="524.6,205.0 525.6,205.0 525.6,206.2 524.6,206.2" fill="#d8862e" stroke="#2f2f2f" stroke-width="0.3"/>
<polygon points="544.0,220.5 547.0,218.5 549.5,217.8 550.5,220.0 549.0,222.5 546.0,224.0 544.2,223.0" fill="#f07021" stroke="#2f2f2f" stroke-width="0.3"/>
<polygon points="541.5,231.0 545.0,229.0 548.5,227.5 549.5,229.5 548.0,233.0 545.0,235.0 542.0,235.0 540.8,233.0" fill="#dc172a" stroke="#2f2f2f" stroke-width="0.3"/>
<polygon points="556.5,222.0 559.0,221.0 559.5,224.0 558.0,228.0 556.2,229.0 555.8,225.5" fill="#5a5a5a" stroke="#2f2f2f" stroke-width="0.3"/>
<polygon points="545.0,164.0 547.0,165.5 549.0,165.0 551.5,163.5 555.0,163.0 557.0,161.5 559.5,159.5 563.0,158.0 567.0,157.8 571.0,158.5 575.0,158.0 579.0,159.0 585.0,159.2 591.0,159.2 595.0,160.0 598.0,161.5 599.0,163.5 596.5,164.5 594.0,165.0 592.0,167.0 591.0,169.5 594.0,171.5 596.0,174.0 597.5,177.0 596.2,179.2 594.8,177.5 593.5,175.5 591.0,174.5 587.5,174.0 587.2,176.5 584.0,175.2 579.0,174.8 574.0,176.2 572.2,176.8 568.0,174.3 563.0,173.8 559.0,175.3 555.0,177.3 553.8,179.5 555.0,181.5 551.0,181.2 548.5,179.5 546.0,177.0 544.5,174.5 545.0,171.5 543.8,169.5 544.2,166.5" fill="#5fd094" stroke="#2f2f2f" stroke-width="0.3"/>
<polygon points="534.1,171.7 534.4,169.3 535.9,166.8 537.8,164.6 539.9,163.4 542.7,163.0 545.5,163.8 547.3,165.3 548.0,167.4 546.7,169.9 546.4,172.4 544.2,173.3 543.1,172.2 542.6,170.6 541.7,170.3 540.9,171.9 539.6,173.3 537.8,173.9 535.9,173.3" fill="#f6e122" stroke="#2f2f2f" stroke-width="0.3"/>
<polygon points="534.7,171.6 535.1,169.3 536.5,166.9 538.2,164.9 540.0,164.1 540.5,166.2 540.0,168.7 539.6,171.1 538.7,173.1 536.8,173.2" fill="#dd8a2e" stroke="#2f2f2f" stroke-width="0.3"/>
<polygon points="534.2,171.6 534.5,169.3 536.0,166.8 537.8,164.7 538.7,164.3 536.8,167.1 535.5,169.4 535.1,171.7" fill="#86d6a4" stroke="#2f2f2f" stroke-width="0.3"/>
<polyline points="540.9,166.2 540.5,169.3 540.2,172.2" fill="none" stroke="#353535" stroke-width="1.0" stroke-linecap="round"/>
<polygon points="532.8,178.9 534.4,176.7 535.9,175.1 538.2,174.4 539.0,172.7 540.0,173.3 540.5,174.7 543.0,174.8 545.0,173.9 546.7,174.8 549.2,178.5 551.0,180.4 549.2,181.6 546.7,181.3 546.4,183.5 545.2,184.7 545.5,187.2 544.2,187.5 543.0,185.3 541.8,183.8 539.9,182.2 538.7,181.3 537.8,181.6 539.9,184.4 542.1,186.6 542.7,187.5 541.5,187.8 539.6,186.0 537.8,183.8 536.2,182.9 534.7,183.2 533.1,182.9 533.4,184.4 532.8,186.6 530.7,187.5 527.9,187.2 527.3,185.0 527.6,182.9 530.0,181.9 532.8,181.6 533.4,180.7" fill="#f6e122" stroke="#2f2f2f" stroke-width="0.3"/>
<polygon points="528.2,173.3 530.0,172.4 531.6,173.3 531.9,175.5 531.0,177.3 528.2,177.0 527.9,175.1" fill="#f6e122" stroke="#2f2f2f" stroke-width="0.3"/>
<polygon points="526.3,174.8 527.7,174.5 527.9,176.4 526.4,176.6" fill="#f6e122" stroke="#2f2f2f" stroke-width="0.3"/>
<polygon points="545.2,184.0 549.5,183.2 552.2,185.2 556.0,185.6 556.8,187.8 553.0,189.0 549.0,188.5 546.8,188.4 545.3,186.2" fill="#f07021" stroke="#2f2f2f" stroke-width="0.3"/>
<polygon points="550.2,190.0 551.8,188.5 555.0,187.0 557.5,185.0 561.0,184.8 563.0,187.0 564.5,190.0 565.0,193.0 563.0,193.5 561.5,192.5 562.0,195.0 563.0,197.0 561.5,199.0 558.0,200.0 555.5,199.5 554.0,196.5 552.5,193.0" fill="#dc172a" stroke="#2f2f2f" stroke-width="0.3"/>
<polygon points="555.0,177.5 559.0,175.5 563.0,174.0 568.0,174.5 572.0,177.0 573.0,180.0 571.0,182.0 569.5,184.5 570.5,188.0 571.5,192.0 569.5,194.0 567.0,194.5 565.0,193.0 564.5,190.0 563.0,187.0 561.0,184.8 560.0,187.5 559.0,184.5 558.0,183.0 556.5,180.0" fill="#5a5a5a" stroke="#2f2f2f" stroke-width="0.3"/>
<polygon points="559.0,182.0 560.5,181.5 561.0,184.5 560.5,187.5 559.5,187.5 559.0,184.5" fill="#353535"/>
<polygon points="572.0,177.0 574.0,176.2 579.0,174.8 584.0,175.2 587.2,176.5 587.5,174.0 591.0,174.5 593.5,175.5 594.8,177.5 596.2,179.2 596.5,182.0 595.0,183.0 594.0,182.0 593.0,184.0 595.0,187.0 595.5,190.0 594.0,193.0 591.5,195.0 589.0,195.5 589.5,198.0 591.0,200.5 590.0,202.5 588.5,201.0 587.5,198.0 586.5,197.0 586.5,200.0 587.5,204.0 588.5,206.0 587.0,205.0 585.5,202.0 585.0,198.0 584.0,195.5 582.5,194.0 581.0,195.0 579.5,197.0 578.0,200.0 576.5,203.5 575.5,205.0 574.0,202.0 572.5,198.0 571.0,194.5 571.5,192.0 570.5,188.0 569.5,184.5 571.0,182.0 573.0,180.0" fill="#f07021" stroke="#2f2f2f" stroke-width="0.3"/>
<polygon points="574.0,176.5 579.0,175.0 584.0,175.5 587.5,176.8 585.0,179.0 581.0,180.0 577.0,179.5 575.0,178.5" fill="#5a5a5a" stroke="#2f2f2f" stroke-width="0.3"/>
<polygon points="584.5,195.0 590.0,194.0 594.5,194.0 595.2,197.5 593.2,201.5 592.2,204.5 590.0,203.6 589.0,201.5 587.0,199.0 585.0,197.0" fill="#f07021" stroke="#2f2f2f" stroke-width="0.3"/>
<polyline points="587.2,201.5 589.0,205.5 591.2,210.5" fill="none" stroke="#f07021" stroke-width="1.4" stroke-linecap="round"/>
<polygon points="583.8,195.2 587.2,195.8 589.0,198.0 590.2,201.5 589.5,203.5 587.5,202.5 585.8,200.0 584.5,197.5" fill="#dc172a" stroke="#2f2f2f" stroke-width="0.3"/>
<polygon points="599.5,179.0 601.0,178.5 602.2,181.0 601.8,184.5 600.2,186.8 599.0,185.8 600.6,183.0 600.2,180.5" fill="#f08a45" stroke="#2f2f2f" stroke-width="0.3"/>
<polygon points="599.8,176.2 601.6,176.2 601.6,177.8 600.0,178.0" fill="#f07021" stroke="#2f2f2f" stroke-width="0.3"/>
<polygon points="596.0,165.0 598.0,166.0 601.5,171.0 600.5,171.8 598.5,169.0 596.0,166.5" fill="#8fd8b0" stroke="#2f2f2f" stroke-width="0.3"/>
<polyline points="550.2,162.2 551.2,160.0 553.0,158.8 554.5,158.4" fill="none" stroke="#9fd9b8" stroke-width="1.2" stroke-linecap="round"/>
<polyline points="598.2,172.5 599.2,177.0" fill="none" stroke="#6fae8b" stroke-width="0.9" stroke-linecap="round"/>
<polyline points="585.6,207.4 590.0,212.5 595.2,218.3" fill="none" stroke="#f07021" stroke-width="1.9" stroke-linecap="round"/>
<polygon points="594.0,211.0 597.5,207.5 599.5,208.5 598.5,212.5 596.0,214.5 594.0,213.5" fill="#f07021" stroke="#2f2f2f" stroke-width="0.3"/>
<polyline points="593.0,217.6 604.0,219.3" fill="none" stroke="#c96a30" stroke-width="1.0" stroke-linecap="round"/>
<polyline points="602.0,211.5 603.5,215.2" fill="none" stroke="#a9612f" stroke-width="1.0" stroke-linecap="round"/>
<polygon points="598.5,198.0 600.0,198.5 601.5,202.5 603.0,206.0 602.0,207.0 600.0,203.5" fill="#d8692a" stroke="#2f2f2f" stroke-width="0.3"/>
<polygon points="606.7,213.0 610.0,213.7 611.4,216.6 609.6,216.2 607.4,215.1" fill="#f07021" stroke="#2f2f2f" stroke-width="0.3"/>
<polygon points="610.0,213.7 613.0,215.5 616.0,218.6 612.5,218.3 611.4,216.6" fill="#5a5a5a" stroke="#2f2f2f" stroke-width="0.3"/>
<polygon points="591.3,237.5 592.4,234.9 592.7,231.3 594.2,228.3 597.1,226.1 600.8,223.9 603.7,221.7 606.7,221.0 607.8,223.6 609.2,224.7 610.0,221.7 611.1,221.0 612.2,224.7 613.6,229.1 614.0,232.7 612.5,236.0 610.0,239.0 607.4,241.2 605.2,242.3 603.0,241.5 601.9,239.0 600.4,236.8 597.9,236.4 594.9,237.5 592.7,238.2" fill="#dc172a" stroke="#2f2f2f" stroke-width="0.3"/>
<polygon points="602.1,244.2 603.9,243.9 604.2,245.1 602.6,245.3" fill="#c8283a" stroke="#2f2f2f" stroke-width="0.3"/>
<polyline points="609.2,248.9 619.1,242.3" fill="none" stroke="#c8283a" stroke-width="1.3" stroke-linecap="round"/>
</g>
</svg>
<div class="t" style="top:8.08px;font-size:8.5px;color:#b4b4b4;left:49.20px;transform:scaleX(0.948);transform-origin:0 0">Search your environment...</div>
<div class="t" style="top:6.76px;font-size:9.7px;color:#fff;font-weight:bold;left:840.40px;transform:translateX(-50%);transform-origin:50% 0">1</div>
<div class="t" style="top:42.10px;font-size:16px;color:#f2f2f2;left:24.30px;transform:scaleX(0.881);transform-origin:0 0">Home</div>
<div class="t" style="top:44.76px;font-size:8.4px;color:#fff;font-weight:bold;left:835.40px;transform:scaleX(0.878);transform-origin:0 0">Edit</div>
<div class="t" style="top:70.10px;font-size:12px;color:#a8a8a8;left:26.70px;transform:scaleX(0.905);transform-origin:0 0">Quick overview</div>
<div class="t" style="top:70.10px;font-size:12px;color:#a8a8a8;left:236.70px;transform:scaleX(0.918);transform-origin:0 0">Cloud &amp; infrastructure</div>
<div class="t" style="top:70.10px;font-size:12px;color:#a8a8a8;left:446.70px;transform:scaleX(0.918);transform-origin:0 0">Application health</div>
<div class="t" style="top:70.10px;font-size:12px;color:#a8a8a8;left:656.70px;transform:scaleX(0.864);transform-origin:0 0">User experience</div>
<div class="t" style="top:102.68px;font-size:7.2px;color:#fff;font-weight:bold;left:39.80px;transform:scaleX(0.876);transform-origin:0 0">Problems</div>
<div class="t" style="top:146.70px;font-size:22px;color:#fff;right:798.80px;transform:scaleX(0.735);transform-origin:100% 0">1</div>
<div class="t" style="top:102.98px;font-size:7.2px;color:#fff;font-weight:bold;left:138.80px;transform:scaleX(0.876);transform-origin:0 0">Hosts</div>
<div class="t" style="top:158.58px;font-size:7.2px;color:#fff;font-weight:bold;left:138.80px;transform:scaleX(0.876);transform-origin:0 0">All fine</div>
<div class="t" style="top:146.80px;font-size:22px;color:#fff;right:700.40px;transform:scaleX(0.776);transform-origin:100% 0">21</div>
<div class="t" style="top:201.98px;font-size:7.2px;color:#fff;font-weight:bold;left:39.50px;transform:scaleX(0.879);transform-origin:0 0">Web checks</div>
<div class="t" style="top:258.08px;font-size:7.2px;color:#fff;font-weight:bold;left:39.50px;transform:scaleX(0.876);transform-origin:0 0">All fine</div>
<div class="t" style="top:245.90px;font-size:22px;color:#fff;right:799.70px;transform:scaleX(0.784);transform-origin:100% 0">3</div>
<div class="t" style="top:201.98px;font-size:7.2px;color:#fff;font-weight:bold;left:138.80px;transform:scaleX(0.888);transform-origin:0 0">Applications</div>
<div class="t" style="top:258.08px;font-size:7.2px;color:#fff;font-weight:bold;left:138.80px;transform:scaleX(0.876);transform-origin:0 0">All fine</div>
<div class="t" style="top:245.90px;font-size:22px;color:#fff;right:700.30px;transform:scaleX(0.800);transform-origin:100% 0">6</div>
<div class="t" style="top:300.68px;font-size:7.2px;color:#fff;font-weight:bold;left:39.60px;transform:scaleX(0.883);transform-origin:0 0">Smartscape</div>
<div class="t" style="top:328.30px;font-size:22px;color:#fff;right:700.60px;transform:scaleX(0.800);transform-origin:100% 0">7</div>
<div class="t" style="top:356.68px;font-size:7.2px;color:#fff;font-weight:bold;right:700.40px;transform:scaleX(0.876);transform-origin:100% 0">Applications</div>
<div class="t" style="top:103.18px;font-size:7.2px;color:#fff;font-weight:bold;left:249.50px;transform:scaleX(0.882);transform-origin:0 0">AWS account</div>
<div class="t" style="top:113.84px;font-size:8.3px;color:#fff;font-weight:bold;left:249.50px;transform:scaleX(0.929);transform-origin:0 0">demo environment</div>
<div class="t" style="top:130.22px;font-size:12.8px;color:#fff;font-weight:bold;right:599.80px">1</div>
<div class="t" style="top:130.22px;font-size:12.8px;color:#fff;font-weight:bold;right:547.00px;transform:scaleX(0.870);transform-origin:100% 0">2</div>
<div class="t" style="top:130.22px;font-size:12.8px;color:#fff;font-weight:bold;right:493.00px;transform:scaleX(0.808);transform-origin:100% 0">15</div>
<div class="t" style="top:145.84px;font-size:7.6px;color:#919191;right:599.80px;transform:scaleX(0.779);transform-origin:100% 0">RDS</div>
<div class="t" style="top:154.74px;font-size:7.6px;color:#919191;right:599.80px;transform:scaleX(0.872);transform-origin:100% 0">instances</div>
<div class="t" style="top:145.84px;font-size:7.6px;color:#919191;right:547.00px;transform:scaleX(0.858);transform-origin:100% 0">Load</div>
<div class="t" style="top:154.74px;font-size:7.6px;color:#919191;right:547.00px;transform:scaleX(0.880);transform-origin:100% 0">balancers</div>
<div class="t" style="top:145.84px;font-size:7.6px;color:#919191;right:493.00px;transform:scaleX(0.778);transform-origin:100% 0">EC2</div>
<div class="t" style="top:154.74px;font-size:7.6px;color:#919191;right:493.00px;transform:scaleX(0.872);transform-origin:100% 0">instances</div>
<div class="t" style="top:201.88px;font-size:7.2px;color:#fff;font-weight:bold;left:249.50px;transform:scaleX(0.930);transform-origin:0 0">VMware vCenter</div>
<div class="t" style="top:213.14px;font-size:8.3px;color:#fff;font-weight:bold;left:249.50px;transform:scaleX(0.946);transform-origin:0 0">emea-gdn-vc002</div>
<div class="t" style="top:234.74px;font-size:7.6px;color:#7c7c7c;right:574.00px;transform:scaleX(0.869);transform-origin:100% 0">Last Fri</div>
<div class="t" style="top:234.74px;font-size:7.6px;color:#7c7c7c;right:535.00px;transform:scaleX(0.864);transform-origin:100% 0">Today</div>
<div class="t" style="top:245.38px;font-size:7.2px;color:#fff;font-weight:bold;right:613.30px;transform:scaleX(0.894);transform-origin:100% 0">Migrations</div>
<div class="t" style="top:256.58px;font-size:7.2px;color:#fff;font-weight:bold;right:613.30px;transform:scaleX(0.862);transform-origin:100% 0">Guests</div>
<div class="t" style="top:244.25px;font-size:9px;color:#fff;font-weight:bold;right:574.00px">2</div>
<div class="t" style="top:255.45px;font-size:9px;color:#fff;font-weight:bold;right:574.00px">9</div>
<div class="t" style="top:244.25px;font-size:9px;color:#fff;font-weight:bold;right:546.00px">2</div>
<div class="t" style="top:255.45px;font-size:9px;color:#fff;font-weight:bold;right:546.00px">9</div>
<div class="t" style="top:230.88px;font-size:22.5px;color:#fff;right:490.70px;transform:scaleX(0.879);transform-origin:100% 0">2</div>
<div class="t" style="top:256.00px;font-size:8px;color:#7e7e7e;right:491.00px;transform:scaleX(0.792);transform-origin:100% 0">ESXi hosts</div>
<div class="t" style="top:300.08px;font-size:7.2px;color:#fff;font-weight:bold;left:249.50px;transform:scaleX(0.907);transform-origin:0 0">Database</div>
<div class="t" style="top:311.20px;font-size:8px;color:#c8c8c8;left:249.50px;transform:scaleX(0.921);transform-origin:0 0">DB1 (Oracle)</div>
<div class="t" style="top:333.04px;font-size:13.6px;color:#fff;left:250.00px;transform:scaleX(0.837);transform-origin:0 0">132</div>
<div class="t" style="top:337.29px;font-size:8.6px;color:#919191;left:270.50px;transform:scaleX(1.046);transform-origin:0 0">/min</div>
<div class="t" style="top:333.04px;font-size:13.6px;color:#fff;left:305.50px;transform:scaleX(0.904);transform-origin:0 0">738</div>
<div class="t" style="top:337.29px;font-size:8.6px;color:#919191;left:328.00px;transform:scaleX(1.046);transform-origin:0 0">/min</div>
<div class="t" style="top:333.04px;font-size:13.6px;color:#fff;left:361.00px;transform:scaleX(0.595);transform-origin:0 0">1</div>
<div class="t" style="top:337.29px;font-size:8.6px;color:#919191;left:366.80px;transform:scaleX(0.959);transform-origin:0 0">ms</div>
<div class="t" style="top:348.10px;font-size:6px;color:#ababab;left:250.00px;transform:scaleX(0.917);transform-origin:0 0">COMMITS</div>
<div class="t" style="top:348.10px;font-size:6px;color:#ababab;left:305.50px;transform:scaleX(0.887);transform-origin:0 0">STATEMENTS</div>
<div class="t" style="top:348.10px;font-size:6px;color:#ababab;left:361.00px;transform:scaleX(0.855);transform-origin:0 0">RESPONSE</div>
<div class="t" style="top:356.10px;font-size:6px;color:#ababab;left:361.00px;transform:scaleX(0.906);transform-origin:0 0">TIME</div>
<div class="t" style="top:103.08px;font-size:7.2px;color:#fff;font-weight:bold;left:459.00px;transform:scaleX(0.923);transform-origin:0 0">Action duration</div>
<div class="t" style="top:114.04px;font-size:8.3px;color:#fff;font-weight:bold;left:459.00px;transform:scaleX(0.934);transform-origin:0 0">www.easytravel.com</div>
<div class="t" style="top:103.08px;font-size:7.2px;color:#fff;font-weight:bold;left:669.00px;transform:scaleX(0.910);transform-origin:0 0">Apdex</div>
<div class="t" style="top:114.04px;font-size:8.3px;color:#fff;font-weight:bold;left:669.00px;transform:scaleX(0.934);transform-origin:0 0">www.easytravel.com</div>
<div class="t" style="top:300.08px;font-size:7.2px;color:#fff;font-weight:bold;left:459.40px;transform:scaleX(0.862);transform-origin:0 0">Services</div>
<div class="t" style="top:311.40px;font-size:18px;color:#dc172a;left:459.40px;transform:scaleX(0.779);transform-origin:0 0">3</div>
<div class="t" style="top:316.33px;font-size:12.2px;color:#b0b0b0;left:468.70px">/</div>
<div class="t" style="top:316.33px;font-size:12.2px;color:#fff;left:473.00px;transform:scaleX(0.981);transform-origin:0 0">73</div>
<div class="t" style="top:316.33px;font-size:12.2px;color:#fff;left:498.00px;transform:scaleX(0.944);transform-origin:0 0">6</div>
<div class="t" style="top:316.33px;font-size:12.2px;color:#fff;left:535.10px;transform:scaleX(0.973);transform-origin:0 0">0</div>
<div class="t" style="top:316.33px;font-size:12.2px;color:#fff;left:574.80px;transform:scaleX(0.973);transform-origin:0 0">0</div>
<div class="t" style="top:329.52px;font-size:6.8px;color:#919191;left:459.40px;transform:scaleX(0.866);transform-origin:0 0">Web</div>
<div class="t" style="top:329.52px;font-size:6.8px;color:#919191;left:498.00px;transform:scaleX(0.859);transform-origin:0 0">Database</div>
<div class="t" style="top:329.52px;font-size:6.8px;color:#919191;left:535.10px;transform:scaleX(0.852);transform-origin:0 0">Messaging</div>
<div class="t" style="top:329.52px;font-size:6.8px;color:#919191;left:574.80px;transform:scaleX(0.876);transform-origin:0 0">RMI/Custom</div>
<div class="t" style="top:405.47px;font-size:7.8px;color:#5e5e5e;left:491.40px;transform:translateX(-50%);transform-origin:50% 0">11:30</div>
<div class="t" style="top:405.47px;font-size:7.8px;color:#5e5e5e;left:527.30px;transform:translateX(-50%) scaleX(0.974);transform-origin:50% 0">12:00</div>
<div class="t" style="top:405.47px;font-size:7.8px;color:#5e5e5e;left:563.20px;transform:translateX(-50%) scaleX(0.974);transform-origin:50% 0">12:30</div>
<div class="t" style="top:405.47px;font-size:7.8px;color:#5e5e5e;left:599.10px;transform:translateX(-50%) scaleX(0.974);transform-origin:50% 0">13:00</div>
<div class="t" style="top:418.89px;font-size:8.6px;color:#a8a8a8;left:470.80px;transform:scaleX(0.917);transform-origin:0 0">Monitored requests</div>
<div class="t" style="top:431.99px;font-size:8.6px;color:#a8a8a8;left:470.80px;transform:scaleX(0.914);transform-origin:0 0">Calls to Internet</div>
<div class="t" style="top:444.99px;font-size:8.6px;color:#a8a8a8;left:470.80px;transform:scaleX(0.914);transform-origin:0 0">Calls to unmonitored hosts</div>
<div class="t" style="top:415.64px;font-size:11.6px;color:#fff;right:300.80px;transform:scaleX(0.887);transform-origin:100% 0">5.5</div>
<div class="t" style="top:418.70px;font-size:8px;color:#9a9a9a;right:280.80px;transform:scaleX(0.957);transform-origin:100% 0">k/min</div>
<div class="t" style="top:428.74px;font-size:11.6px;color:#fff;right:297.50px;transform:scaleX(0.914);transform-origin:100% 0">22</div>
<div class="t" style="top:431.80px;font-size:8px;color:#9a9a9a;right:280.80px;transform:scaleX(0.959);transform-origin:100% 0">/min</div>
<div class="t" style="top:441.74px;font-size:11.6px;color:#fff;right:297.50px;transform:scaleX(0.976);transform-origin:100% 0">0</div>
<div class="t" style="top:444.80px;font-size:8px;color:#9a9a9a;right:280.80px;transform:scaleX(0.959);transform-origin:100% 0">/min</div>
<div class="t" style="top:300.08px;font-size:7.2px;color:#fff;font-weight:bold;left:669.40px;transform:scaleX(0.914);transform-origin:0 0">Most used 3rd party providers</div>
<div class="t" style="top:311.75px;font-size:8.3px;color:#fff;font-weight:bold;left:669.40px;transform:scaleX(0.934);transform-origin:0 0">www.easytravel.com</div>
<div class="t" style="top:414.27px;font-size:7.8px;color:#585858;left:679.30px;transform:translateX(-50%);transform-origin:50% 0">11:00</div>
<div class="t" style="top:414.27px;font-size:7.8px;color:#585858;left:711.60px;transform:translateX(-50%);transform-origin:50% 0">11:30</div>
<div class="t" style="top:414.27px;font-size:7.8px;color:#585858;left:749.40px;transform:translateX(-50%) scaleX(0.974);transform-origin:50% 0">12:00</div>
<div class="t" style="top:414.27px;font-size:7.8px;color:#585858;left:786.90px;transform:translateX(-50%) scaleX(0.974);transform-origin:50% 0">12:30</div>
<div class="t" style="top:414.27px;font-size:7.8px;color:#585858;left:819.70px;transform:translateX(-50%) scaleX(0.974);transform-origin:50% 0">13:00</div>
<div class="t" style="top:431.34px;font-size:7.6px;color:#9a9a9a;left:676.70px;transform:scaleX(0.913);transform-origin:0 0">dynatrace.com</div>
<div class="t" style="top:444.04px;font-size:7.6px;color:#9a9a9a;left:676.70px;transform:scaleX(0.885);transform-origin:0 0">amazon.com</div>
<div class="t" style="top:456.24px;font-size:7.6px;color:#9a9a9a;left:676.70px;transform:scaleX(0.978);transform-origin:0 0">twitter.com</div>
<div class="t" style="top:430.38px;font-size:9.2px;color:#fff;font-weight:bold;right:86.70px;transform:scaleX(0.928);transform-origin:100% 0">95.3</div>
<div class="t" style="top:443.08px;font-size:9.2px;color:#fff;font-weight:bold;right:86.70px;transform:scaleX(0.978);transform-origin:100% 0">94.0</div>
<div class="t" style="top:455.28px;font-size:9.2px;color:#fff;font-weight:bold;right:86.70px;transform:scaleX(0.816);transform-origin:100% 0">93.1</div>
<div class="t" style="top:431.54px;font-size:7.6px;color:#8a8a8a;right:70.80px;transform:scaleX(0.947);transform-origin:100% 0">/min</div>
<div class="t" style="top:444.24px;font-size:7.6px;color:#8a8a8a;right:70.80px;transform:scaleX(0.947);transform-origin:100% 0">/min</div>
<div class="t" style="top:456.44px;font-size:7.6px;color:#8a8a8a;right:70.80px;transform:scaleX(0.947);transform-origin:100% 0">/min</div>
</body>
</html>
